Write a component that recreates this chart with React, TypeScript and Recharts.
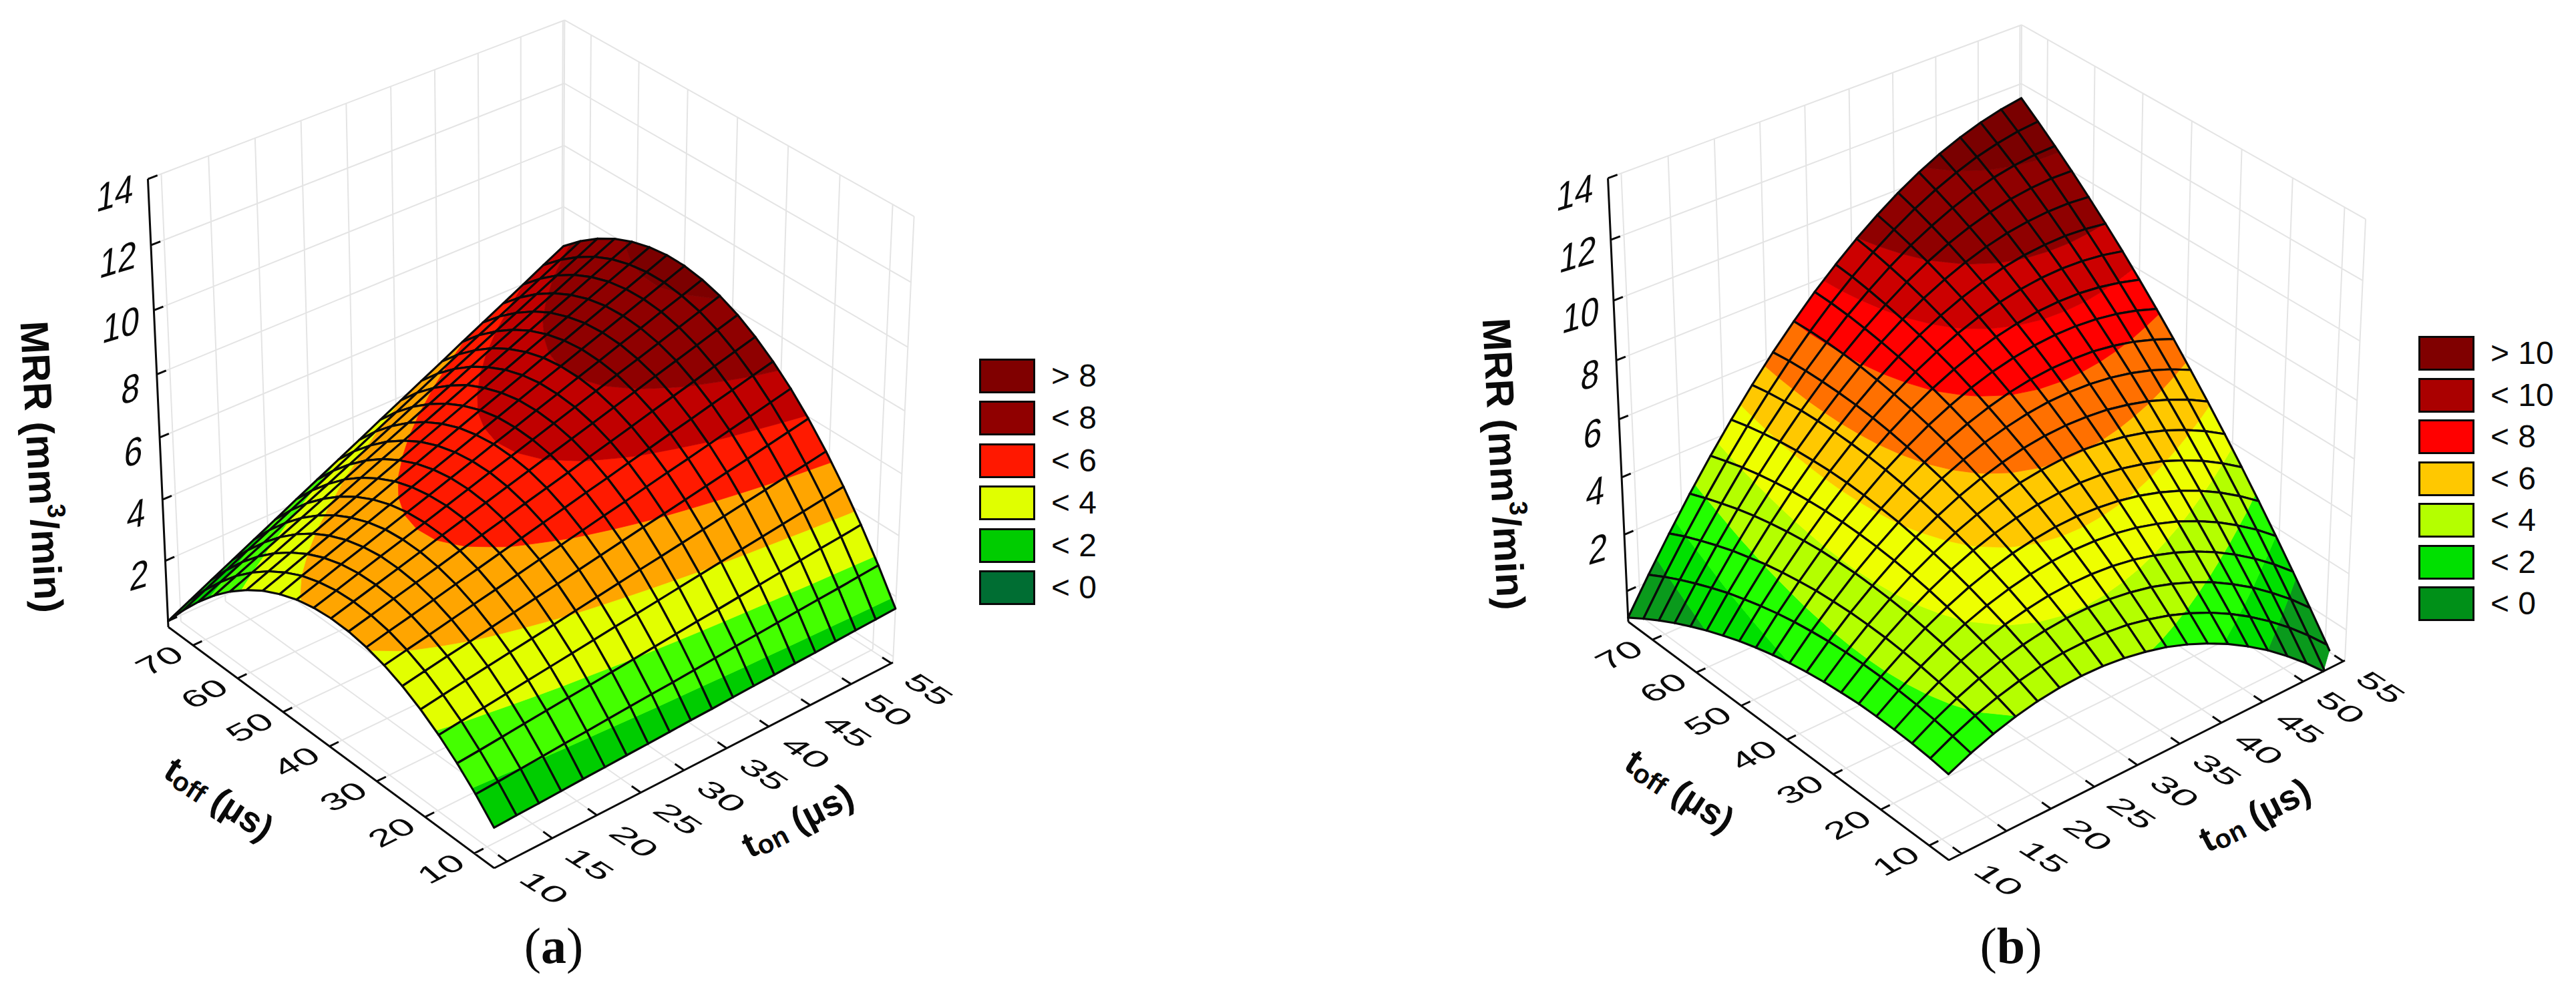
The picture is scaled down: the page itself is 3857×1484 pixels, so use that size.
import React from 'react';
import { ScatterChart, Scatter, XAxis, YAxis, Legend } from 'recharts';

const tonTicks = [10, 15, 20, 25, 30, 35, 40, 45, 50, 55];
const toffTicks = [10, 20, 30, 40, 50, 60, 70];
const zTicks = [0, 2, 4, 6, 8, 10, 12, 14];

// mesh of the fitted surface, 20 x 20 nodes
const tonGrid = [8.6, 11.05, 13.51, 15.96, 18.41, 20.86, 23.32, 25.77, 28.22, 30.67, 33.13, 35.58, 38.03, 40.48, 42.94, 45.39, 47.84, 50.29, 52.75, 55.2];
const toffGrid = [6, 9.66, 13.33, 16.99, 20.65, 24.32, 27.98, 31.64, 35.31, 38.97, 42.63, 46.29, 49.96, 53.62, 57.28, 60.95, 64.61, 68.27, 71.94, 75.6];

// one row per toffGrid value, one column per tonGrid value
const mrrA = [
  [1.10, 1.13, 1.15, 1.18, 1.21, 1.23, 1.26, 1.28, 1.31, 1.34, 1.36, 1.39, 1.42, 1.44, 1.47, 1.49, 1.52, 1.55, 1.57, 1.60],
  [1.74, 1.78, 1.83, 1.88, 1.93, 1.97, 2.02, 2.07, 2.12, 2.16, 2.21, 2.26, 2.31, 2.35, 2.40, 2.45, 2.50, 2.54, 2.59, 2.64],
  [2.30, 2.36, 2.43, 2.50, 2.57, 2.64, 2.70, 2.77, 2.84, 2.91, 2.98, 3.05, 3.11, 3.18, 3.25, 3.32, 3.39, 3.46, 3.52, 3.59],
  [2.78, 2.87, 2.95, 3.04, 3.13, 3.22, 3.31, 3.40, 3.49, 3.57, 3.66, 3.75, 3.84, 3.93, 4.02, 4.10, 4.19, 4.28, 4.37, 4.46],
  [3.18, 3.29, 3.40, 3.51, 3.62, 3.72, 3.83, 3.94, 4.05, 4.16, 4.27, 4.37, 4.48, 4.59, 4.70, 4.81, 4.92, 5.03, 5.13, 5.24],
  [3.51, 3.64, 3.77, 3.89, 4.02, 4.15, 4.28, 4.40, 4.53, 4.66, 4.79, 4.92, 5.04, 5.17, 5.30, 5.43, 5.55, 5.68, 5.81, 5.94],
  [3.76, 3.91, 4.05, 4.20, 4.35, 4.49, 4.64, 4.79, 4.93, 5.08, 5.23, 5.37, 5.52, 5.67, 5.81, 5.96, 6.11, 6.25, 6.40, 6.55],
  [3.93, 4.10, 4.26, 4.43, 4.60, 4.76, 4.93, 5.09, 5.26, 5.42, 5.59, 5.75, 5.92, 6.08, 6.25, 6.41, 6.58, 6.74, 6.91, 7.07],
  [4.03, 4.21, 4.40, 4.58, 4.76, 4.95, 5.13, 5.31, 5.50, 5.68, 5.86, 6.05, 6.23, 6.41, 6.60, 6.78, 6.96, 7.15, 7.33, 7.51],
  [4.05, 4.25, 4.45, 4.65, 4.85, 5.06, 5.26, 5.46, 5.66, 5.86, 6.06, 6.26, 6.46, 6.66, 6.86, 7.07, 7.27, 7.47, 7.67, 7.87],
  [3.99, 4.21, 4.43, 4.65, 4.86, 5.08, 5.30, 5.52, 5.74, 5.95, 6.17, 6.39, 6.61, 6.83, 7.05, 7.26, 7.48, 7.70, 7.92, 8.14],
  [3.86, 4.09, 4.33, 4.56, 4.80, 5.03, 5.26, 5.50, 5.73, 5.97, 6.20, 6.44, 6.67, 6.91, 7.14, 7.38, 7.61, 7.85, 8.08, 8.32],
  [3.64, 3.90, 4.15, 4.40, 4.65, 4.90, 5.15, 5.40, 5.65, 5.90, 6.16, 6.41, 6.66, 6.91, 7.16, 7.41, 7.66, 7.91, 8.17, 8.42],
  [3.36, 3.62, 3.89, 4.16, 4.42, 4.69, 4.96, 5.22, 5.49, 5.76, 6.03, 6.29, 6.56, 6.83, 7.09, 7.36, 7.63, 7.89, 8.16, 8.43],
  [2.99, 3.27, 3.55, 3.84, 4.12, 4.40, 4.68, 4.96, 5.25, 5.53, 5.81, 6.09, 6.38, 6.66, 6.94, 7.22, 7.51, 7.79, 8.07, 8.35],
  [2.55, 2.84, 3.14, 3.44, 3.73, 4.03, 4.33, 4.63, 4.92, 5.22, 5.52, 5.82, 6.11, 6.41, 6.71, 7.01, 7.30, 7.60, 7.90, 8.19],
  [2.03, 2.34, 2.65, 2.96, 3.27, 3.58, 3.90, 4.21, 4.52, 4.83, 5.14, 5.45, 5.77, 6.08, 6.39, 6.70, 7.01, 7.33, 7.64, 7.95],
  [1.43, 1.75, 2.08, 2.40, 2.73, 3.06, 3.38, 3.71, 4.03, 4.36, 4.69, 5.01, 5.34, 5.66, 5.99, 6.31, 6.64, 6.97, 7.29, 7.62],
  [0.75, 1.09, 1.43, 1.77, 2.11, 2.45, 2.79, 3.13, 3.47, 3.81, 4.15, 4.49, 4.83, 5.17, 5.51, 5.84, 6.18, 6.52, 6.86, 7.20],
  [0.00, 0.35, 0.71, 1.06, 1.41, 1.76, 2.12, 2.47, 2.82, 3.17, 3.53, 3.88, 4.23, 4.58, 4.94, 5.29, 5.64, 5.99, 6.35, 6.70],
];

const mrrB = [
  [1.85, 2.19, 2.47, 2.69, 2.85, 2.95, 2.99, 2.97, 2.89, 2.75, 2.56, 2.30, 1.98, 1.61, 1.17, 0.68, 0.12, -0.49, -1.17, -1.90],
  [1.94, 2.32, 2.65, 2.91, 3.11, 3.26, 3.35, 3.37, 3.34, 3.25, 3.09, 2.88, 2.61, 2.28, 1.89, 1.44, 0.93, 0.36, -0.27, -0.96],
  [2.00, 2.43, 2.80, 3.11, 3.36, 3.55, 3.68, 3.75, 3.76, 3.71, 3.60, 3.44, 3.21, 2.92, 2.58, 2.17, 1.71, 1.18, 0.60, -0.05],
  [2.03, 2.51, 2.92, 3.28, 3.57, 3.81, 3.98, 4.10, 4.15, 4.15, 4.09, 3.97, 3.78, 3.54, 3.24, 2.88, 2.46, 1.98, 1.44, 0.84],
  [2.04, 2.56, 3.02, 3.42, 3.76, 4.04, 4.26, 4.42, 4.52, 4.56, 4.54, 4.47, 4.33, 4.13, 3.88, 3.56, 3.19, 2.75, 2.26, 1.70],
  [2.03, 2.59, 3.09, 3.54, 3.92, 4.25, 4.51, 4.72, 4.86, 4.95, 4.98, 4.94, 4.85, 4.70, 4.49, 4.22, 3.89, 3.50, 3.05, 2.54],
  [1.98, 2.59, 3.14, 3.63, 4.06, 4.43, 4.74, 4.99, 5.18, 5.31, 5.38, 5.40, 5.35, 5.24, 5.07, 4.85, 4.56, 4.22, 3.81, 3.35],
  [1.91, 2.57, 3.16, 3.69, 4.17, 4.58, 4.94, 5.23, 5.47, 5.65, 5.76, 5.82, 5.82, 5.75, 5.63, 5.45, 5.21, 4.91, 4.55, 4.13],
  [1.82, 2.52, 3.16, 3.73, 4.25, 4.71, 5.11, 5.45, 5.73, 5.95, 6.12, 6.22, 6.26, 6.24, 6.17, 6.03, 5.84, 5.58, 5.27, 4.89],
  [1.70, 2.44, 3.12, 3.75, 4.31, 4.82, 5.26, 5.65, 5.97, 6.24, 6.44, 6.59, 6.68, 6.70, 6.67, 6.58, 6.43, 6.22, 5.95, 5.62],
  [1.55, 2.34, 3.07, 3.73, 4.34, 4.89, 5.38, 5.81, 6.18, 6.49, 6.74, 6.94, 7.07, 7.14, 7.15, 7.11, 7.00, 6.84, 6.61, 6.33],
  [1.38, 2.21, 2.98, 3.70, 4.35, 4.94, 5.48, 5.95, 6.37, 6.72, 7.02, 7.26, 7.43, 7.55, 7.61, 7.61, 7.55, 7.43, 7.25, 7.01],
  [1.18, 2.05, 2.87, 3.63, 4.33, 4.97, 5.55, 6.07, 6.53, 6.93, 7.27, 7.55, 7.77, 7.93, 8.04, 8.08, 8.07, 7.99, 7.85, 7.66],
  [0.95, 1.87, 2.74, 3.54, 4.28, 4.97, 5.59, 6.16, 6.66, 7.11, 7.49, 7.82, 8.09, 8.29, 8.44, 8.53, 8.56, 8.53, 8.44, 8.29],
  [0.70, 1.67, 2.57, 3.42, 4.21, 4.94, 5.61, 6.22, 6.77, 7.26, 7.69, 8.06, 8.37, 8.62, 8.82, 8.95, 9.02, 9.04, 8.99, 8.89],
  [0.42, 1.43, 2.39, 3.28, 4.11, 4.89, 5.60, 6.25, 6.85, 7.38, 7.86, 8.28, 8.63, 8.93, 9.17, 9.35, 9.46, 9.52, 9.52, 9.46],
  [0.12, 1.17, 2.17, 3.11, 3.99, 4.81, 5.57, 6.26, 6.90, 7.48, 8.00, 8.47, 8.87, 9.21, 9.49, 9.71, 9.88, 9.98, 10.03, 10.01],
  [-0.21, 0.89, 1.93, 2.91, 3.84, 4.70, 5.50, 6.25, 6.93, 7.56, 8.12, 8.63, 9.08, 9.46, 9.79, 10.06, 10.27, 10.41, 10.50, 10.53],
  [-0.57, 0.58, 1.67, 2.69, 3.66, 4.57, 5.42, 6.21, 6.94, 7.61, 8.22, 8.77, 9.26, 9.69, 10.06, 10.37, 10.63, 10.82, 10.96, 11.03],
  [-0.95, 0.24, 1.37, 2.45, 3.46, 4.41, 5.31, 6.14, 6.91, 7.63, 8.28, 8.88, 9.41, 9.89, 10.31, 10.67, 10.96, 11.20, 11.38, 11.50],
];

// contour levels and the colour below each one, last colour is above the top level
const levelsA = [0, 1.85, 2.85, 3.9, 5, 6, 6.9, 8.1];
const coloursA = ['#006e33', '#00cc00', '#44ff00', '#e2ff00', '#ffa500', '#ff1a00', '#c00000', '#8f0000', '#7c0000'];
const levelsB = [0.68, 1.7, 2.7, 3.8, 4.8, 5.8, 6.9, 7.9, 8.9, 10.4];
const coloursB = ['#0a9a1c', '#00e000', '#22ff00', '#b4ff00', '#eeff00', '#ffc800', '#ff7000', '#ff0000', '#cc0000', '#8f0000', '#7a0000'];

const legendLabelsA = ['> 8', '< 8', '< 6', '< 4', '< 2', '< 0'];
const legendColoursA = ['#800000', '#900000', '#ff1800', '#e0ff00', '#00cc00', '#006e33'];
const legendLabelsB = ['> 10', '< 10', '< 8', '< 6', '< 4', '< 2', '< 0'];
const legendColoursB = ['#800000', '#aa0000', '#ff0000', '#ffc800', '#b4ff00', '#00e000', '#009018'];

const FONT = '"Liberation Sans", Arial, sans-serif';
const GRID = '#e4e4e4';
const INK = '#0a0a0a';

const viewA = {
  left: 0, width: 1928,
  O: [740, 1300], U: [1337, 992], V: [252, 939], W: [737.2, 601.4],
  a: 0.07, b: 0.07, c: -0.058,
  tonMin: 8.6, tonMax: 55.2, toffMin: 6, toffMax: 75.6, zMin: -0.2, zMax: 14,
  zTitle: [-175, 91], toffTitle: [-165, 78], tonTitle: [144, 88],
  legend: [1466, 537, 63.5], caption: [829, 1416], name: 'a',
};
const viewB = {
  left: 1928, width: 1929,
  O: [2918, 1288], U: [3511, 989], V: [2438, 931], W: [2914.8, 596.5],
  a: 0.07, b: 0.07, c: -0.058,
  tonMin: 8.6, tonMax: 55.2, toffMin: 6, toffMax: 75.6, zMin: -1.1, zMax: 14,
  zTitle: [-171, 111], toffTitle: [-160, 76], tonTitle: [150, 87],
  legend: [3621, 504, 62.5], caption: [3011, 1416], name: 'b',
};

type View = typeof viewA;

// box coordinates to page pixels, a small perspective on a unit cube
const project = (v: View, ton: number, toff: number, z: number) => {
  const u = (ton - v.tonMin) / (v.tonMax - v.tonMin);
  const k = (toff - v.toffMin) / (v.toffMax - v.toffMin);
  const w = (z - v.zMin) / (v.zMax - v.zMin);
  const den = 1 + v.a * u + v.b * k + v.c * w;
  const at = (n: number) =>
    (v.O[n] +
      u * ((1 + v.a) * v.U[n] - v.O[n]) +
      k * ((1 + v.b) * v.V[n] - v.O[n]) +
      w * ((1 + v.c) * v.W[n] - v.O[n])) / den;
  return { sx: at(0), sy: at(1) };
};

const wallPoints = (v: View) => {
  const out: any[] = [];
  const seg = (a: number[], b: number[]) => {
    out.push(project(v, a[0], a[1], a[2]), project(v, b[0], b[1], b[2]));
  };
  tonTicks.forEach((t) => {
    seg([t, v.toffMin, v.zMin], [t, v.toffMax, v.zMin]);
    seg([t, v.toffMax, v.zMin], [t, v.toffMax, v.zMax]);
  });
  toffTicks.forEach((f) => {
    seg([v.tonMin, f, v.zMin], [v.tonMax, f, v.zMin]);
    seg([v.tonMax, f, v.zMin], [v.tonMax, f, v.zMax]);
  });
  zTicks.forEach((z) => {
    seg([v.tonMin, v.toffMax, z], [v.tonMax, v.toffMax, z]);
    seg([v.tonMax, v.toffMin, z], [v.tonMax, v.toffMax, z]);
  });
  seg([v.tonMax, v.toffMin, v.zMin], [v.tonMax, v.toffMin, v.zMax]);
  seg([v.tonMax, v.toffMax, v.zMin], [v.tonMax, v.toffMax, v.zMax]);
  return out;
};

const axisPoints = (v: View) => {
  const out: any[] = [];
  const seg = (a: number[], b: number[]) => {
    out.push(project(v, a[0], a[1], a[2]), project(v, b[0], b[1], b[2]));
  };
  seg([v.tonMin, v.toffMax, v.zMin], [v.tonMin, v.toffMax, v.zMax]);
  seg([v.tonMin, v.toffMin, v.zMin], [v.tonMax, v.toffMin, v.zMin]);
  seg([v.tonMin, v.toffMin, v.zMin], [v.tonMin, v.toffMax, v.zMin]);
  zTicks.forEach((z) => seg([v.tonMin, v.toffMax, z], [v.tonMin + 1, v.toffMax, z]));
  tonTicks.forEach((t) => seg([t, v.toffMin, v.zMin], [t, v.toffMin + 1.8, v.zMin]));
  toffTicks.forEach((f) => seg([v.tonMin, f, v.zMin], [v.tonMin + 1, f, v.zMin]));
  return out;
};

const pairLines = (stroke: string, width: number) => (props: any) => {
  let d = '';
  const pts = props.points;
  for (let n = 0; n + 1 < pts.length; n += 2) {
    d += `M${pts[n].x} ${pts[n].y}L${pts[n + 1].x} ${pts[n + 1].y}`;
  }
  return <path d={d} fill="none" stroke={stroke} strokeWidth={width} />;
};

type Node = { x: number; y: number; z: number };

const mix = (p: Node, q: Node, level: number): Node => {
  const t = (level - p.z) / (q.z - p.z);
  return { x: p.x + t * (q.x - p.x), y: p.y + t * (q.y - p.y), z: level };
};

// keep the part of a polygon above (sign 1) or below (sign -1) a level
const clip = (poly: Node[], level: number, sign: number) => {
  const out: Node[] = [];
  poly.forEach((p, n) => {
    const q = poly[(n + 1) % poly.length];
    const pIn = sign * (p.z - level) >= 0;
    const qIn = sign * (q.z - level) >= 0;
    if (pIn) out.push(p);
    if (pIn !== qIn) out.push(mix(p, q, level));
  });
  return out;
};

const polyPath = (poly: Node[]) =>
  poly.map((p, n) => `${n ? 'L' : 'M'}${p.x.toFixed(1)} ${p.y.toFixed(1)}`).join('') + 'Z';

const surfaceLine = (rows: number[][], levels: number[], colours: string[], zMin: number) => (props: any) => {
  const nx = rows[0].length;
  const node = (j: number, i: number): Node => {
    const p = props.points[j * nx + i];
    return { x: p.x, y: p.y, z: rows[j][i] };
  };
  const cells: any[] = [];
  // painter's order, far corner of the box first
  for (let j = rows.length - 2; j >= 0; j--) {
    for (let i = nx - 2; i >= 0; i--) {
      const corners = [node(j, i), node(j, i + 1), node(j + 1, i + 1), node(j + 1, i)];
      const base = clip(corners, zMin, 1);
      if (base.length < 3) continue;
      colours.forEach((fill, b) => {
        let poly = base;
        if (b > 0) poly = clip(poly, levels[b - 1], 1);
        if (b < levels.length && poly.length) poly = clip(poly, levels[b], -1);
        if (poly.length < 3) return;
        cells.push(<path key={`${j}-${i}-${b}`} d={polyPath(poly)} fill={fill} stroke={fill} strokeWidth={0.8} />);
      });
      let d = '';
      corners.forEach((p, n) => {
        const q = corners[(n + 1) % 4];
        if (p.z < zMin && q.z < zMin) return;
        const a = p.z < zMin ? mix(p, q, zMin) : p;
        const e = q.z < zMin ? mix(p, q, zMin) : q;
        d += `M${a.x.toFixed(1)} ${a.y.toFixed(1)}L${e.x.toFixed(1)} ${e.y.toFixed(1)}`;
      });
      cells.push(<path key={`${j}-${i}-mesh`} d={d} fill="none" stroke={INK} strokeWidth={3.2} strokeLinecap="round" />);
    }
  }
  return <g>{cells}</g>;
};

const surfacePoints = (v: View, rows: number[][]) =>
  rows.flatMap((row, j) => row.map((z, i) => project(v, tonGrid[i], toffGrid[j], z)));

const none = () => null;

// a tick label painted on the plane of its wall or floor
const planeLabel = (m: number[], dx: number, dy: number) => (props: any) => {
  const single = props.payload.label.length < 2 ? 10 : 0;
  return (
    <text
      transform={`matrix(${m.join(' ')} ${props.cx + dx + single} ${props.cy + dy})`}
      textAnchor="middle"
      dominantBaseline="central"
      fontFamily={FONT}
      fontSize={46}
      fill={INK}
    >
      {props.payload.label}
    </text>
  );
};

const titleShape = (angle: number, dx: number, dy: number, kind: string) => (props: any) => {
  const x = props.cx + dx;
  const y = props.cy + dy;
  const common = {
    transform: `rotate(${angle} ${x} ${y})`,
    x,
    y,
    textAnchor: 'middle' as const,
    dominantBaseline: 'central' as const,
    fontFamily: FONT,
    fontWeight: 700,
    fill: INK,
  };
  if (kind === 'z') {
    return (
      <text {...common} fontSize={59}>
        MRR (mm<tspan dy={-19} fontSize={38}>3</tspan><tspan dy={19}>/min)</tspan>
      </text>
    );
  }
  return (
    <text {...common} fontSize={54}>
      t<tspan dy={10} fontSize={40}>{kind}</tspan><tspan dy={-10}> (µs)</tspan>
    </text>
  );
};

const LegendBox = ({ v, labels, colours }: { v: View; labels: string[]; colours: string[] }) => (
  <div style={{ fontFamily: FONT, fontSize: 48, color: INK }}>
    {labels.map((label, n) => (
      <div key={label} style={{ display: 'flex', alignItems: 'center', height: v.legend[2] }}>
        <div style={{ width: 84, height: 52, boxSizing: 'border-box', border: `3px solid ${INK}`, background: colours[n] }} />
        <span style={{ marginLeft: 24, lineHeight: 1 }}>{label}</span>
      </div>
    ))}
  </div>
);

const Panel = ({ v, rows, levels, colours, labels, legendColours }: any) => {
  const zLabels = zTicks.filter((z) => z > 0).map((z) => ({ ...project(v, v.tonMin, v.toffMax, z), label: String(z) }));
  const toffLabels = toffTicks.map((f) => ({ ...project(v, v.tonMin, f, v.zMin), label: String(f) }));
  const tonLabels = tonTicks.map((t) => ({ ...project(v, t, v.toffMin, v.zMin), label: String(t) }));
  return (
    <div style={{ position: 'absolute', left: v.left, top: 0, width: v.width, height: 1484 }}>
      <ScatterChart width={v.width} height={1484} margin={{ top: 0, right: 0, bottom: 0, left: 0 }}>
        <XAxis type="number" dataKey="sx" domain={[v.left, v.left + v.width]} hide />
        <YAxis type="number" dataKey="sy" domain={[0, 1484]} reversed hide />
        <Scatter data={wallPoints(v)} line={pairLines(GRID, 2)} shape={none} isAnimationActive={false} />
        <Scatter data={axisPoints(v)} line={pairLines(INK, 3)} shape={none} isAnimationActive={false} />
        <Scatter data={surfacePoints(v, rows)} line={surfaceLine(rows, levels, colours, v.zMin)} shape={none} isAnimationActive={false} />
        <Scatter data={zLabels} shape={planeLabel([1.08, -0.32, -0.12, 1.3], -49, 21)} isAnimationActive={false} />
        <Scatter data={toffLabels} shape={planeLabel([1.12, -0.56, 0.72, 0.62], -50, 23)} isAnimationActive={false} />
        <Scatter data={tonLabels} shape={planeLabel([1.12, 0.72, -0.78, 0.5], 56, 39)} isAnimationActive={false} />
        <Scatter data={[project(v, v.tonMin, v.toffMax, 7)]} shape={titleShape(87, v.zTitle[0], v.zTitle[1], 'z')} isAnimationActive={false} />
        <Scatter data={[project(v, v.tonMin, 40, v.zMin)]} shape={titleShape(33, v.toffTitle[0], v.toffTitle[1], 'off')} isAnimationActive={false} />
        <Scatter data={[project(v, 32, v.toffMin, v.zMin)]} shape={titleShape(-27, v.tonTitle[0], v.tonTitle[1], 'on')} isAnimationActive={false} />
        <Legend
          layout="vertical"
          align="center"
          verticalAlign="middle"
          wrapperStyle={{ left: v.legend[0] - v.left, top: v.legend[1] - 6, width: 300 }}
          content={() => <LegendBox v={v} labels={labels} colours={legendColours} />}
        />
      </ScatterChart>
      <div
        style={{
          position: 'absolute',
          left: v.caption[0] - v.left - 70,
          top: v.caption[1] - 45,
          width: 140,
          textAlign: 'center',
          fontFamily: '"Liberation Serif", serif',
          fontSize: 76,
          lineHeight: '90px',
          color: INK,
        }}
      >
        (<b>{v.name}</b>)
      </div>
    </div>
  );
};

export default function App() {
  return (
    <div style={{ position: 'absolute', left: 0, top: 0, width: 3857, height: 1484, background: '#fff', overflow: 'hidden' }}>
      <Panel v={viewA} rows={mrrA} levels={levelsA} colours={coloursA} labels={legendLabelsA} legendColours={legendColoursA} />
      <Panel v={viewB} rows={mrrB} levels={levelsB} colours={coloursB} labels={legendLabelsB} legendColours={legendColoursB} />
    </div>
  );
}
